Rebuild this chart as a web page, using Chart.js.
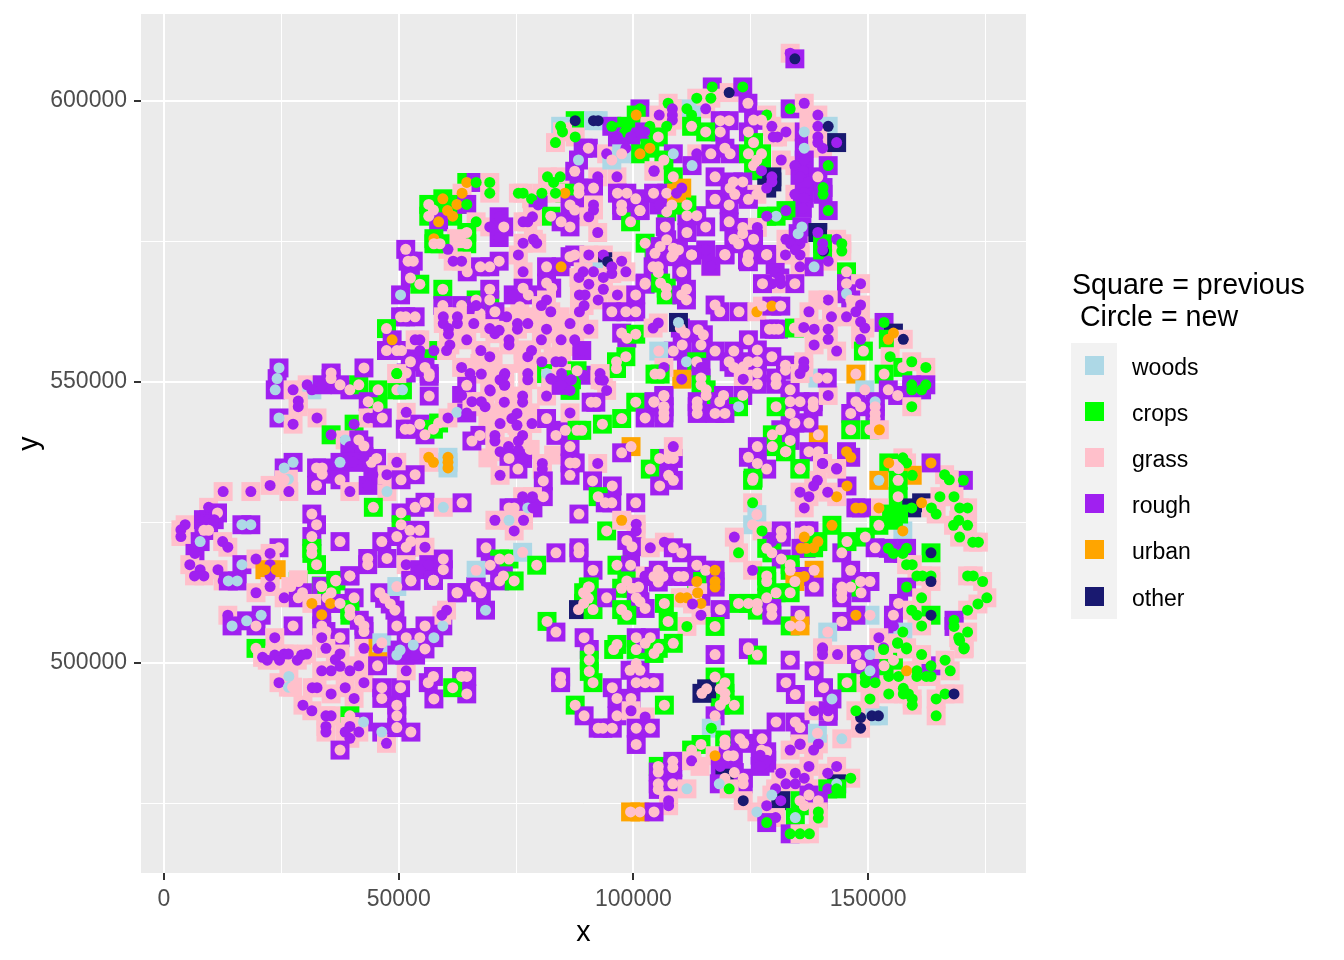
<!DOCTYPE html>
<html><head><meta charset="utf-8">
<style>html,body{margin:0;padding:0;background:#fff}canvas{display:block}</style>
<script src="https://cdn.jsdelivr.net/npm/chart.js@4"></script></head><body>
<canvas id="c" width="1344" height="960"></canvas>
<script>
// Land-use classes
const W='woods',C='crops',G='grass',R='rough',U='urban',O='other';
const classNames=[W,C,G,R,U,O];
const classColors=['#ADD8E6','#00FF00','#FFC0CB','#A020F0','#FFA500','#191970'];
const xTickValues=[0,25000,50000,75000,100000,125000,150000,175000];
const yTickValues=[475000,500000,525000,550000,575000,600000];
const xTickLabels=['0','50000','100000','150000'];
const yTickLabels=['500000','550000','600000'];
// [east km, north km, previous class, new class], by region of the map
const west=[[24.5,552.5,R,W],[24.1,550.6,R,W],[23.7,548.6,R,W],[27.5,548.6,G,R],[30.5,549.5,G,R],[31.5,548.6,W,R],[33.7,549.5,R,R],[35.6,551.6,R,G],[35.6,550.6,R,G],[37.5,549.5,R,G],[39.6,548.6,R,G],[41.5,549.5,C,G],[42.6,552.5,R,G],[45.6,548.6,C,G],[49.6,548.6,C,G],[50.8,548.6,C,W],[49.6,551.5,G,C],[51.6,551.6,R,G],[28.6,546.6,G,R],[28.6,545.6,G,R],[24.5,543.6,R,W],[27.5,542.5,G,R],[32.6,543.6,G,R],[40.5,542.5,C,R],[43.5,546.5,R,G],[45.6,545.6,C,G],[43.5,543.6,G,R],[44.6,543.6,G,R],[46.5,543.6,R,G],[51.6,544.6,G,R],[51.4,541.6,R,G],[52.4,541.6,R,G],[54.5,542.5,R,G],[55.6,540.6,R,G],[57.4,541.6,C,G],[58.5,542.7,C,G],[60.5,543.6,G,R],[62.4,544.6,G,W],[35.6,540.6,C,R],[38.6,539.7,G,W],[39.6,538.5,R,R],[41.5,539.7,R,G],[42.6,538.6,R,G],[45.3,536.4,R,G],[44.2,535.7,R,G],[42.6,536.7,R,R],[40.3,535.7,R,R],[49.6,535.7,G,R],[56.4,536.6,G,U],[57.4,535.7,G,U],[60.5,536.6,W,U],[60.5,535.7,W,U],[60.5,534.7,W,U],[27.5,535.7,R,W],[25.6,534.7,R,W],[26.5,532.7,G,W],[25.6,532.6,G,G],[26.6,530.5,G,R],[22.6,531.6,G,R],[18.5,530.5,G,R],[12.6,530.5,G,R],[32.5,534.7,R,G],[33.7,534.7,R,G],[33.7,533.6,R,G],[32.5,531.6,R,G],[37.5,535.7,R,W],[37.5,532.6,R,G],[39.6,530.5,G,R],[43.5,531.6,R,R],[47.5,530.5,G,W],[44.6,527.7,C,G],[44.5,533.5,R,R],[47.5,533.5,G,R],[50.5,532.6,R,G],[53.5,533.5,R,G],[55.6,528.6,R,G],[53.5,527.7,R,G],[59.5,527.7,G,W],[50.5,526.7,R,G],[50.5,524.6,C,G],[9.5,527.7,G,R],[11.4,526.7,R,G],[4.5,524.6,G,R],[3.6,523.7,G,R],[3.6,522.5,G,R],[8.4,525.5,R,R],[9.5,525.5,R,R],[10.7,525.5,R,R],[8.5,523.6,R,G],[9.5,523.6,R,G],[16.6,524.6,R,W],[18.5,524.6,R,W],[7.7,521.6,R,W],[12.5,521.6,G,R],[13.6,520.6,G,R],[6.6,519.5,R,R],[5.5,517.5,G,R],[7.7,516.6,G,R],[6.5,515.5,G,R],[8.5,515.5,G,R],[11.5,516.6,G,R],[12.6,514.6,G,R],[15.6,514.6,R,W],[13.7,514.6,R,W],[16.6,517.5,R,W],[19.6,518.5,G,R],[24.5,520.5,R,G],[22.6,519.5,G,R],[22.6,517.5,G,R],[22.6,515.5,G,R],[21.5,516.6,U,U],[23.9,516.6,U,U],[31.5,526.5,R,G],[32.5,524.6,R,G],[31.5,522.5,R,G],[31.5,520.4,C,G],[31.5,519.5,C,G],[32.5,517.5,C,G],[37.5,521.6,R,G],[28.6,514.5,C,G],[36.6,514.6,C,G],[39.6,515.5,R,G],[46.4,521.6,R,G],[43.4,518.6,R,G],[43.4,517.5,R,G],[47.5,518.6,R,G],[49.6,522.5,R,G],[52.4,523.6,R,G],[54.5,523.6,R,G],[52.6,521.6,R,G],[51.6,520.6,R,G],[55.6,520.6,G,R],[51.6,517.5,G,R],[54.5,516.6,R,R],[56.4,517.5,R,R],[59.5,518.5,R,G],[59.5,516.6,R,G],[57.4,514.7,R,W],[52.6,514.7,R,G],[33.5,513.7,C,G]];
const southWest=[[22.6,513.6,G,R],[19.6,512.5,G,R],[25.6,511.6,G,R],[13.6,508.5,G,R],[17.6,507.5,R,W],[14.5,506.6,R,W],[20.7,508.5,R,W],[19.6,506.6,R,G],[27.5,506.6,R,G],[23.6,504.5,G,R],[19.6,502.6,C,G],[21,501,G,R],[22,500.5,G,R],[23.6,501.4,G,R],[24.6,500.5,G,R],[25.6,501.6,G,R],[26.5,501.6,G,R],[28.4,500.5,G,R],[29.3,501.4,G,R],[30.4,501.6,G,R],[28.6,514.8,G,G],[27,513.6,G,G],[29.5,512.5,R,G],[28.6,511.6,R,G],[33.6,513.6,R,G],[36.6,514.7,C,G],[35.6,512.5,C,G],[34.7,511.6,C,G],[31.5,510.6,G,U],[35.5,510.6,R,U],[37.5,510.6,R,G],[40.5,511.6,R,G],[39.6,515.5,R,G],[33.6,508.6,R,U],[39.6,509.5,C,G],[39.6,508.5,C,G],[33.6,506.6,R,G],[34.5,505.6,R,G],[33.6,504.5,G,R],[37.5,504.5,R,G],[41.6,507.6,R,G],[42.6,506.6,R,G],[42.6,505.6,R,G],[34.5,502.6,G,R],[42.6,502.6,G,R],[45.6,502.6,U,R],[46.4,503.6,W,G],[37.5,501.6,G,R],[36.5,500.6,G,R],[37.5,499.4,G,R],[33.6,498.6,G,R],[35.6,498.6,G,R],[39.6,498.6,G,R],[41.5,499.5,G,R],[42.6,496.5,G,R],[38.6,495.6,G,R],[31.6,495.6,G,R],[32.6,495.6,G,R],[35.6,494.5,G,R],[40.5,493.7,G,R],[29.6,492.5,G,R],[31.5,491.5,G,R],[24.5,496.5,G,R],[26.6,497.6,G,W],[26.5,495.7,G,W],[27.4,495.7,G,G],[34.5,490.6,G,R],[35.6,490.6,G,R],[34.5,488.7,G,R],[34.5,487.7,G,R],[39.6,490.6,C,G],[42.5,489.5,R,W],[39.6,488.7,G,R],[38.6,487.7,G,R],[39.6,486.6,G,R],[41.5,487.7,G,R],[37.5,484.5,R,G],[46.4,487.7,R,W],[47.4,485.7,G,R],[45.5,499.5,R,G],[46.4,495.6,R,G],[46.4,493.7,R,G],[50.4,495.6,R,G],[51.6,498.6,G,R],[49.6,492.5,R,G],[49.6,490.6,R,G],[49.6,488.5,R,G],[52.6,487.7,R,G],[57.5,493.6,R,G],[57.4,497.6,R,G],[56.3,496.5,R,G],[63.4,497.6,R,G],[64.5,497.6,R,G],[64.5,494.5,R,G],[61.5,495.6,C,G],[46,512.5,R,G],[47,511.5,R,G],[48.2,510.5,R,G],[49.2,509.4,R,G],[49.6,506.6,R,G],[49.6,513.6,W,G],[52.6,514.6,R,G],[57.4,514.7,R,G],[62.4,512.5,R,G],[66.4,513.6,R,G],[67.5,512.5,R,G],[68.5,509.4,R,W],[59.4,506.6,R,W],[57.5,504.5,R,W],[60.2,509.4,G,R],[59.2,508.5,G,R],[55.6,506.6,R,G],[54.5,504.5,R,G],[51.6,504.5,R,G],[55.6,502.5,R,G],[53.6,501.4,R,R],[51.3,501.4,R,R],[53.1,503.2,R,W],[50.3,502.3,R,W],[49.6,501.4,R,W]];
const northWest=[[64.5,585.5,C,U],[66.5,585.5,R,C],[69.4,585.5,G,C],[69.4,583.6,G,C],[63.5,583.6,G,U],[59.4,582.6,C,U],[62.4,581.6,C,U],[60.4,580.5,C,U],[61.5,579.5,C,U],[56.4,581.6,C,G],[57.4,580.6,C,G],[56.4,579.5,C,G],[58.5,578.5,R,U],[64.5,581.6,R,C],[66.5,578.5,G,C],[69.4,577.6,G,R],[72.4,577.6,R,G],[71.4,579.4,R,R],[71.4,575.7,R,R],[64.5,576.6,C,G],[64.5,574.6,C,G],[62.3,575.5,G,G],[60.5,573.6,G,R],[57.5,575.5,C,U],[57.5,574.6,C,G],[58.8,574.6,C,G],[51.5,573.6,R,G],[53.1,571.5,R,G],[52,571.5,R,G],[52.5,568.5,R,G],[54.5,567.4,C,G],[50.4,565.5,R,W],[59.4,566.5,C,G],[59.4,563.6,R,G],[63.4,563.6,R,G],[66.5,564.6,C,G],[69.4,564.6,C,G],[66.5,563.6,R,R],[50.4,561.6,R,G],[51.5,561.6,R,G],[53.5,561.6,R,G],[47.4,559.5,C,G],[48.6,557.5,R,U],[47.4,555.6,R,G],[49.6,555.6,R,G],[50.6,555.6,R,G],[54.5,555.6,R,R],[57.5,555.6,C,R],[53.5,557.5,G,R],[54.5,557.5,G,R],[52.5,553.6,R,G],[55.6,552.6,R,G],[56.5,551.5,R,G],[49.6,551.5,G,C],[81.5,570.5,R,G],[84.6,570.5,R,U],[81.5,567.6,R,G],[82.6,566.7,R,G],[81.7,586.5,G,C],[83,585.5,G,C],[84.4,586.5,G,C],[87.5,587.5,R,G],[92.4,586.5,G,R],[96.5,586.5,G,R],[91.5,584.5,R,G],[88.4,584.5,R,G],[88.4,583.6,R,G],[85.4,583.6,C,U],[83.4,583.6,G,C],[80.5,583.6,G,C],[78.3,582.6,G,C],[75.5,583.6,G,C],[76.5,583.6,G,C],[79.7,581.5,R,R],[86.5,581.5,R,G],[87.5,580.6,R,G],[91.5,581.5,G,R],[91.5,580.6,G,R],[90.5,579.4,G,R],[82.4,579.5,C,G],[84.6,578.5,R,G],[86.5,577.6,R,G],[92.4,576.6,G,R],[76.5,578.5,G,R],[77.5,578.5,G,R],[78.5,579.4,G,R],[96.6,583.6,R,G],[98.6,583.6,R,G],[100.5,582.6,R,G],[97.5,581.5,R,G],[97.5,580.5,R,G],[101.4,580.5,R,G],[99.4,578.5,C,G],[104.4,587.5,G,R],[76.5,574.7,G,R],[75.5,572.6,G,R],[78.7,575.4,G,R],[79.4,574.7,G,R],[71.4,571.5,R,G],[69.4,570.5,R,G],[67.4,570.5,R,G],[64.6,569.6,R,G],[61.6,571.5,G,R],[63.4,571.5,G,R],[76.5,569.6,G,R],[69.4,566.5,R,G],[74.4,565.5,R,R],[76.5,566.7,R,G],[77.6,565.5,R,G],[70.5,562.5,R,G],[86.5,572.3,R,G],[87.5,572.6,R,G],[90.5,572.6,G,R],[93.6,572.6,G,R],[94.5,571.4,O,O],[97.5,571.5,G,R],[95.4,570.5,G,R],[95.4,569.3,G,R],[98.4,569.6,G,R],[91.5,569.6,W,R],[89.3,569.6,G,R],[88.4,568.6,G,R],[93.6,568.6,G,R],[90.5,567.4,G,R],[93.6,566.5,G,R],[96.6,565.5,G,R],[92.5,564.6,G,R],[88.5,565.5,G,R],[89.7,565.5,G,R],[89.5,563.6,G,R],[88.5,562.5,G,R],[95.4,562.5,R,G],[98.4,562.5,R,G],[100.5,562.5,R,G],[100.5,565.5,R,G],[102.5,567.4,R,G],[102.5,574.7,C,G],[104.4,573.5,C,R],[81.5,564.6,G,R],[82.4,562.5,G,R],[80.4,563.6,G,R],[86.5,560.4,G,R],[75.3,560.4,G,R],[77.5,560.4,G,R],[75.3,559.4,G,R],[81.5,559.4,G,R],[80.4,557.5,G,R],[84.6,557.5,G,R],[87.5,557.5,G,R],[90.5,559.4,G,R],[97.5,558.7,R,G],[98.6,557.8,R,G],[100.5,558.5,C,G],[89,555.6,R,R],[78.3,555.6,G,R],[77.5,554.5,G,R],[73.5,557.5,G,R],[73.5,556.6,G,R],[67.5,555.6,G,R],[69.4,554.5,G,R],[64.5,557.5,G,R],[60.9,556.6,G,R],[60.2,555.6,G,R],[66,560.4,G,R],[70.5,558.6,G,R],[71.4,559.2,G,R],[69.4,559.5,G,R],[59.5,561.6,G,R],[59.5,560.4,G,R],[60.6,559.5,G,R],[60.6,558.5,G,R],[62.5,561.6,G,R],[62.5,560.4,G,R],[63.4,552.6,G,R],[80.5,553.6,G,R],[83.5,553.6,G,R],[84.7,553.6,G,R],[88,552,C,G],[96.4,553.6,C,G],[96.4,552.4,C,G],[98.4,554.5,C,G],[72.6,551.5,G,R],[71.6,550.4,G,R],[72.6,549.5,G,R],[77.5,551.5,G,R],[77.5,550.4,G,R],[81.5,551.5,C,W],[82.4,550.6,G,R],[84.7,551.5,G,R],[84.7,549.8,G,R],[86.8,550.4,C,R],[92.9,551.5,G,R],[92.9,550.4,G,R],[69.4,548.6,G,R]];
const centreFill=[[67.3,562.2,G,G],[75.8,563.4,G,G],[73,561.6,G,R],[79.4,561.6,G,G],[84.4,561.6,G,G],[84.4,558.6,G,G],[76.5,555.7,G,G],[82.9,554.5,G,G],[85.8,556.3,G,G],[76.5,553.3,G,G],[70.1,553.9,G,G],[67.3,553.3,G,G],[65.2,551.5,G,R],[70.9,550.9,G,G],[67.6,551.4,G,R],[72.5,551.2,G,R],[72.5,549.4,G,R],[82.5,550.5,R,R],[89.4,551.2,R,R],[93.6,550.3,G,R],[94.3,548.5,G,R],[64.5,549.4,R,G],[63.4,547.6,R,R],[68.4,545.6,G,R],[74.8,543.5,G,G],[75.5,537.9,G,R],[73.4,538.5,G,R],[72,544.5,G,G],[78,544.5,G,G],[69,543,G,G],[78,538,G,G],[69,536.5,G,G],[83,537,G,G]];
const centre=[[56.5,551,R,G],[56.5,547.5,R,G],[64.5,544.5,R,R],[65.6,546.5,G,R],[67.6,546.5,G,R],[69.5,548.4,G,R],[72.5,546.4,G,R],[75.2,544.4,G,R],[74.1,543.5,G,R],[75.2,542.3,G,R],[71.6,542.6,G,R],[78.4,542.6,G,R],[81.5,543.5,R,G],[85.5,541.4,R,G],[83.5,540.5,R,G],[86.5,544.5,G,R],[81.5,547.5,G,R],[76.4,547.5,G,R],[76.4,546.4,G,R],[67.3,540.5,R,G],[65.6,539.5,R,G],[70.5,540.5,G,R],[70.5,539.5,G,R],[76.4,540.5,G,R],[75.5,539.5,G,R],[86.5,538.5,R,G],[71.6,537.6,G,R],[73.5,536.4,R,G],[76.4,536.4,R,R],[75.4,534.5,R,G],[71.6,533.4,G,R],[80.6,535.5,G,R],[80.6,534.5,G,R],[86.5,535.6,R,G],[87.6,535.6,R,G],[86.5,533.4,R,G],[92.4,535.5,G,R],[91.3,532.4,R,G],[95.5,531.5,R,G],[80.8,532.4,R,G],[80.8,529.6,R,G],[76.4,529.6,G,R],[78.5,529.6,G,R],[77.5,527.6,G,W],[73.5,527.6,R,G],[74.6,527.6,R,G],[78.6,527.6,R,R],[70.5,525.4,G,R],[73.5,525.4,G,W],[76.6,525.4,G,R],[74.6,523.5,G,R],[63.5,528.5,R,G],[88.4,526.5,R,G],[92.5,529.6,C,G],[94,528.5,R,G],[95.4,528.5,R,G],[100.5,528.5,R,G],[94.3,523.5,C,G],[97.5,525.4,G,U],[100.6,524.7,G,R],[100.6,523.5,G,R],[98.6,521.8,R,G],[99.7,520.7,R,G],[103.6,520.5,G,R],[106.6,521.5,G,R],[108.5,520.5,R,G],[68.6,520.5,R,G],[71.5,518.5,C,G],[73.5,518.5,C,G],[76.4,519.7,W,G],[79.4,517.4,C,G],[83.5,519.6,R,G],[88.4,520.5,R,G],[88.4,519.6,R,G],[91.4,516.5,R,G],[96.5,517.4,C,G],[99.4,517.4,R,G],[102.5,515.5,G,R],[69.5,517.4,R,G],[66.5,516.5,W,G],[72.3,515.5,R,G],[71.5,514.6,R,G],[74.6,514.6,C,G],[62.5,512.5,R,G],[66.5,513.5,R,G],[67.6,512.7,R,G],[90.4,513.5,C,G],[89.7,512.4,C,G],[98.6,514.6,C,G],[97.5,513.3,C,G],[99.7,513.3,C,G],[105.6,536.4,C,G],[107.5,536.4,R,G],[108.5,536.4,R,G],[103.6,534.5,C,G],[105.6,531.5,R,G],[107.5,533.4,R,G],[108.5,532.5,R,G],[99.5,538.5,U,G],[97.5,537.4,R,G],[100.5,546.4,C,G],[104.4,546.4,R,G],[106.5,547.5,R,G],[106.5,545.6,R,G],[106.5,544.5,R,G],[106.5,543.6,R,G],[102.5,543.6,R,G],[97.5,543.5,C,G],[93.4,542.5,C,G],[89,541.4,C,G],[88,541.4,C,G],[91,546.4,R,G],[92,546.4,R,G],[86.5,548.5,C,R],[84.6,549.4,R,R]];
const eastCentre=[[119.5,572.6,R,G],[124.5,572.6,R,G],[124.5,571.4,R,G],[128.4,572.6,R,G],[132.4,572.6,G,R],[135.5,572.6,G,R],[135.5,570.5,G,R],[140.5,573.3,C,O],[141.5,571.5,G,R],[144.4,573.3,G,C],[138.5,570.5,R,W],[145.4,569.6,C,G],[145.4,567.5,R,G],[148.4,567.5,G,R],[145.4,565.7,R,W],[146.3,564.6,R,G],[148.4,563.7,G,R],[147.4,562.5,G,R],[148.4,560.7,G,R],[149.3,559.6,G,R],[148.4,557.6,G,R],[153.4,560.6,R,C],[155.4,558.7,O,U],[154.3,557.6,C,U],[157.5,557.6,G,O],[154.7,554.5,G,C],[153.4,551.4,C,G],[157.4,552.6,C,G],[159.3,553.6,G,C],[162.3,552.6,G,C],[147.4,551.4,U,G],[149.3,548.6,W,G],[154.3,548.6,R,G],[156.3,547.6,R,G],[159.3,549.5,R,C],[159.3,548.6,R,C],[161.4,548.6,R,C],[162.3,549.5,R,C],[159.3,545.6,G,C],[151.5,546.5,R,W],[151.5,545.6,R,G],[151.5,544.4,R,G],[151.5,543.5,R,G],[147.4,546.5,R,G],[148.4,545.6,R,G],[146.3,544.4,R,G],[146.3,541.5,C,G],[150.4,541.5,C,G],[152.4,541.5,G,U],[145.4,537.6,R,U],[146.3,536.6,R,U],[139.4,540.6,U,G],[133.4,539.6,R,G],[134.4,542.7,R,G],[137.4,542.7,R,G],[131.4,541.5,R,G],[129.6,540.6,C,G],[129.6,538.5,C,G],[132.4,537.6,C,G],[137.4,537.6,R,G],[139.4,537.6,R,G],[140.3,535.5,G,R],[143.3,534.6,G,R],[126.4,538.5,R,G],[124.5,536.6,R,G],[126.4,535.5,R,G],[128.4,534.5,R,G],[125.5,532.9,C,G],[135.5,534.6,C,G],[133.4,548.6,R,G],[133.4,546.5,R,G],[135.5,546.5,R,G],[133.4,544.4,R,G],[138.3,546.5,R,G],[138.3,545.6,R,G],[141.5,547.6,G,R],[130.4,545.6,C,G],[139.3,550.7,W,G],[141.3,550.7,R,G],[132.4,553,R,G],[132.4,552.1,R,G],[136.3,553.6,G,R],[136.3,552.6,G,R],[135.5,551.5,G,R],[129.5,554.5,R,G],[126.4,555.7,R,G],[126.4,553.6,R,G],[126.4,551.6,R,G],[126.4,549.6,R,G],[124.5,553.6,R,G],[123.4,552.7,R,G],[120.4,553.6,R,G],[121.4,552.6,R,G],[123.4,550.5,G,R],[130.4,550.7,R,G],[130.4,549.6,R,G],[124.5,557.5,R,G],[121.4,555.5,R,G],[117.4,555.5,R,G],[114.4,556.6,R,G],[113.8,559.3,R,G],[114.9,558.4,R,G],[110.4,556.6,R,G],[111,558.7,R,G],[110,559.6,R,G],[109.6,560.6,O,W],[105.3,560.5,G,R],[104.2,559.6,G,R],[108.5,555.5,R,G],[105.4,555.5,W,G],[111.3,553.6,R,W],[113.5,553.6,C,G],[114.4,552.6,R,R],[114.4,550.7,R,G],[114.4,549.5,C,G],[110.3,550.5,U,R],[106.5,552.6,G,R],[104.6,551.4,C,G],[105.7,551.4,C,G],[115.5,548.6,C,G],[115.5,547.6,C,G],[118.4,546.5,R,G],[119.2,547.6,R,G],[123.3,547.6,R,G],[122.4,545.6,C,W],[113.6,546.5,R,G],[113.6,545.6,R,G],[113.6,544.4,R,G],[117.4,544.4,R,G],[119.5,544.4,R,G],[106.5,547.6,R,G],[104.4,546.5,R,G],[106.5,545.6,R,G],[118.4,562.5,R,G],[117.4,563.7,R,G],[122.5,562.5,R,G],[126.3,562.5,G,U],[127.5,563.5,G,G],[129.5,563.5,R,U],[131.4,563.5,R,G],[130,559.4,R,G],[129,559.4,R,G],[130.9,559.4,R,G],[134.3,559.6,C,G],[136.3,559.7,G,R],[138.5,559.4,G,R],[141.5,559.4,G,R],[141.5,557.6,G,R],[137.4,562.5,G,R],[142.2,561.6,G,R],[145.4,561.6,G,R],[141.5,564.6,G,R],[139.3,564.6,G,G],[138.5,556.6,G,R],[143.3,555.5,G,R],[149,555.5,C,G],[130.2,569.5,R,R],[131.2,568.5,R,R],[129.5,567.5,G,R],[131.4,567.5,G,R],[134.4,567.5,R,G],[127.5,567.5,R,G],[116.5,570.5,G,R],[110.3,569.6,R,G],[112.4,572.6,R,G],[108.5,572.6,R,G],[105.3,570.5,R,G],[104.2,570.5,R,G],[105.3,569.5,R,G],[102.5,567.6,R,G],[105.8,567.6,C,G],[107,566.7,C,G],[107,565.5,C,G],[111.3,566.5,R,G],[110.3,565.5,R,G],[111.3,564.6,R,G],[108.5,538.5,G,R]];
const north=[[133.4,608.5,G,R],[134.4,607.5,R,O],[116.8,602.5,R,C],[120.4,601.5,G,O],[123.3,602.5,R,C],[113.5,600.5,G,C],[116.5,600.5,G,C],[124.4,599.6,R,G],[133.4,598.6,R,C],[136.4,599.6,G,R],[115.4,598.6,G,R],[107.4,599.6,G,C],[111.4,598.6,W,C],[112.4,597.5,W,C],[101.4,598.6,R,C],[108.3,598.6,G,R],[108.3,597.5,G,R],[108.3,596.6,G,R],[105.5,597.5,G,R],[100.6,597.5,C,U],[128.4,597.5,G,C],[87.6,596.5,C,O],[91.5,596.5,W,O],[92.5,596.5,W,O],[84.5,595.5,W,C],[84.9,594.5,G,C],[87.6,593.6,G,C],[83.4,592.6,G,C],[95.4,595.5,R,C],[98.6,595.5,C,C],[98.2,594.5,C,C],[103.5,595.5,G,C],[103.5,594.5,G,C],[107.1,595.5,G,C],[102.4,594.5,R,R],[112.4,595.5,C,G],[118.5,596.5,R,G],[120.4,596.5,R,G],[118.5,594.5,R,G],[115.4,594.5,C,G],[125.6,596.6,R,G],[124.5,594.5,R,G],[127.3,596.6,R,G],[129.5,595.5,G,R],[132.5,594.5,G,R],[129.8,593.6,G,R],[130.7,593.6,G,R],[136.4,594.5,R,W],[136.4,591.6,R,W],[137.4,596.6,G,G],[139.3,597.5,G,R],[139.3,595.5,G,R],[141.5,595.5,W,O],[139.3,593.6,G,R],[139.3,592.6,G,R],[140.3,591.6,G,R],[143.3,592.6,O,R],[89.3,591.6,R,R],[90.4,591.6,R,G],[88.3,589.5,R,W],[94.3,590.6,G,R],[98.4,591.6,R,R],[96.6,593.6,R,R],[99.4,593.6,R,R],[105.3,593.6,C,G],[101.4,590.6,C,U],[103.5,591.6,C,U],[95.4,589.5,W,G],[97.5,590.6,W,G],[108.5,590.6,R,W],[106.5,589.5,C,G],[113.5,590.6,G,R],[112.5,588.5,R,W],[104.4,587.6,G,R],[108.5,586.5,C,G],[116.5,590.6,R,G],[119.5,591.6,R,G],[120.6,590.6,R,G],[117.4,586.5,R,G],[125.6,592.6,C,G],[124.5,590.6,C,G],[127.3,590.6,C,G],[126.3,589.5,C,G],[125.6,588.5,C,G],[127.3,587.6,C,R],[131.5,589.5,G,R],[134.4,588.5,G,R],[129.5,586.5,O,R],[129.5,585.6,O,R],[128.4,584.5,O,R],[141.5,588.5,R,C],[136.4,589.5,R,R],[136.2,587.6,R,R],[135.5,586.5,R,R],[137.3,585.6,R,R],[139.3,586.5,R,G],[140.4,584.6,R,C],[140.4,583.4,R,C],[134.4,583.4,G,R],[136.4,583.7,R,R],[136.4,582.7,R,R],[136,580.9,R,R],[141.5,580.5,R,C],[132.5,580.5,C,R],[130.4,579.5,C,W],[128.4,579.5,C,R],[123.3,585.6,R,G],[121.3,585.6,R,G],[120.6,584.5,R,G],[121.6,583.4,R,G],[126.3,583.4,G,G],[124.5,582.5,R,G],[120.4,581.5,R,G],[117.4,582.5,R,G],[120.4,578.5,R,G],[123.3,577.5,R,G],[123.3,576.4,R,G],[126.4,577.5,G,R],[121.4,575.4,R,G],[122.4,574.6,R,G],[125.6,575.4,R,G],[128.4,572.7,R,G],[124.3,571.7,R,G],[119.5,572.7,R,G],[115.4,577.6,R,G],[111.4,579.6,R,G],[113.5,579.6,R,G],[111.4,576.6,R,G],[115.4,573.5,R,R],[112.4,572.6,R,G],[116.5,570.6,R,R],[111.4,581.5,C,G],[108.2,581.5,C,G],[107.1,580.3,C,G],[105.5,581.5,R,R],[104.3,583.6,R,G],[107.1,583.6,R,G],[110.3,584.5,U,R],[109.2,583.6,U,R],[106.8,577.6,R,G],[107.1,575.3,R,G],[105.7,574.1,R,G],[104.6,572.9,R,G],[108.5,573.8,R,G],[109.6,573.5,R,G],[108.2,572.3,R,G],[101.4,580.5,R,G],[132.5,575.4,G,R],[133.5,574.6,G,R],[135.5,574.6,G,R],[134.5,573.5,G,R],[135.9,577.6,R,W],[135.1,576.4,R,W],[139.3,576.6,O,R],[143.3,575.4,G,R],[140.3,574.6,C,R],[140.3,573.5,C,R],[144.4,574.6,G,C]];
const east=[[170.3,532.5,R,C],[166.3,533.5,G,C],[167.3,532.6,G,C],[163.4,535.6,R,U],[157.4,536.5,G,C],[158.2,535.6,G,C],[154.4,535.6,C,U],[156.5,534.6,G,G],[159.4,533.4,U,C],[156.4,532.5,C,G],[152.3,532.5,U,W],[156.4,529.6,C,G],[161.4,528.5,O,U],[159.3,527.6,O,C],[163.5,527.6,G,C],[164.5,526.5,G,C],[165.3,529.6,G,C],[168.3,529.6,G,C],[169.5,527.6,G,C],[171.2,527.6,G,C],[169.3,525.4,G,C],[168.2,524.5,G,C],[171.2,524.5,G,C],[169.5,522.4,G,C],[172.3,521.5,G,C],[173.5,521.5,G,C],[152.3,527.6,G,U],[147.4,527.6,R,U],[148.6,527.6,R,U],[152.3,524.5,C,G],[157.4,523.5,W,U],[155,526.5,C,C],[156.5,526.5,C,C],[155.4,525.4,C,C],[149.4,522.4,C,G],[151.5,520.5,R,G],[154.3,520.4,R,C],[155.4,519.5,R,C],[157.4,519.5,R,C],[158.2,520.4,R,C],[163.4,519.6,C,O],[158.2,517.5,G,C],[159.4,517.5,G,C],[160.4,515.5,G,C],[161.6,515.5,G,C],[163.4,515.5,G,C],[163.4,514.5,G,O],[158.2,513.5,R,C],[161.4,511.6,G,C],[156.5,510.6,R,G],[159.3,509.4,G,C],[160.4,508.5,G,C],[163.4,508.5,C,O],[161.4,506.6,G,C],[171.2,515.5,G,C],[172.4,515.5,G,C],[174.4,514.5,G,C],[175.3,511.6,G,C],[173.4,510.5,G,C],[171.2,509.4,G,C],[168.3,507.6,R,C],[168.3,506.5,R,C],[171.2,505.5,G,C],[169.3,504.5,G,C],[170.5,502.7,G,C],[150.4,508.5,W,G],[147.4,508.5,R,U],[144.4,507.4,R,G],[141.4,505.5,W,G],[155.4,508.5,R,G],[155.4,506.6,R,R],[152.3,504.5,G,R],[157.4,505.5,W,C],[156.3,503.6,W,C],[153.3,502.7,G,R],[158.2,502.7,G,C],[140.3,502.7,G,R],[124.5,502.7,R,G],[148.4,514.5,R,G],[150.4,514.5,R,G],[148.5,512.5,R,G],[146.3,513.5,C,G],[144.4,513.5,R,G],[144.4,512.5,R,G],[144.4,511.6,R,G],[146.3,516.5,R,G],[144.4,519.6,R,G],[145.5,521.6,C,G],[142.3,524.5,C,U],[145.5,531.5,R,U],[143.3,529.6,G,U],[141.4,530.4,G,R],[143.3,534.5,G,R],[140.3,535.5,G,R],[139.2,532.5,G,R],[138.4,531.5,G,R],[137.4,529.6,G,R],[135.5,530.4,G,R],[136.4,527.6,G,R],[135.5,534.5,C,G],[132.5,537.6,C,G],[125.4,532.5,C,G],[125.4,528.5,G,C],[126.3,526.4,W,G],[125.4,524.6,W,G],[127.4,523.5,G,C],[131.5,523.5,R,G],[131.5,522.4,R,G],[136.4,523.5,R,G],[137.4,523.5,R,G],[136.4,522.4,G,U],[121.5,522.4,G,R],[122.4,519.6,G,C],[129.5,521.6,R,R],[128.4,520.4,C,G],[129.5,519.6,C,G],[131.5,518.5,R,G],[135.7,520.4,R,U],[136.8,520.4,R,U],[138.4,520.5,C,U],[139.3,521.6,C,U],[133.4,517.5,C,G],[133.4,516.5,C,G],[125.4,516.5,G,R],[128.4,515.5,C,G],[128.4,514.5,C,G],[138.5,516.5,U,G],[136.4,515.4,R,U],[134.4,514.5,U,G],[138.5,513.5,R,G],[130.4,512.5,C,G],[133.4,512.5,C,G],[128.4,511.6,C,G],[122.4,510.6,C,G],[124.5,510.6,C,G],[126.4,510.6,C,G],[126.4,509.4,C,G],[129.5,509.7,R,G],[129.5,508.5,R,G],[135.5,508.5,R,G],[133.4,506.6,C,G],[135.5,506.6,U,G]];
const southCentre=[[110.3,519.6,R,G],[113.5,517.4,R,G],[115.4,516.5,R,G],[117.4,516.5,R,U],[117.4,514.5,R,U],[117.4,513.5,R,U],[113.5,514.5,C,U],[113.7,512.5,G,U],[110,511.6,G,U],[111.4,511.6,G,U],[114.4,510.6,R,U],[112.6,510.5,G,R],[114.4,508.5,G,R],[111.4,506.5,G,C],[102.5,515.4,G,R],[105.3,516.5,R,G],[105.3,515.4,R,G],[105.3,514.4,R,G],[104.4,515.4,R,G],[106.3,515.4,R,G],[109.6,515.4,R,G],[110.7,515.4,R,G],[101.1,513.5,R,G],[100.6,511.6,R,G],[101.4,510.9,R,G],[102.5,509.7,R,G],[90.6,513.5,C,G],[89.4,512.5,C,G],[90.4,511.5,C,G],[89.4,510.6,C,G],[88.3,509.5,O,G],[91.4,509.5,C,G],[94.3,511.6,R,G],[97.5,509.5,C,G],[98.6,508.5,C,G],[106.6,510.6,C,G],[107.4,507.4,C,G],[118.5,509.5,R,G],[117.4,506.5,C,G],[81.6,507.4,C,G],[83.5,505.5,R,G],[89.5,504.5,R,G],[90.6,502.4,R,G],[90.6,500.5,C,G],[90.6,498.5,C,G],[91.4,496.5,C,G],[84.5,497.5,R,G],[84.5,496.5,R,G],[95.5,495.6,R,G],[87.6,492.5,C,G],[89.5,490.6,R,G],[92.5,488.4,R,G],[93.5,488.4,R,G],[95.5,488.4,R,G],[96.5,490.6,R,G],[96.5,493.7,R,G],[99.5,493.7,R,G],[99.5,491.5,G,R],[102.5,490.4,G,R],[100.6,488.4,R,G],[103.6,488.4,R,G],[100.6,485.5,R,G],[106.6,492.5,C,G],[100.6,496.5,R,G],[102.5,496.5,R,G],[104.4,496.5,R,G],[100.6,499.9,W,G],[99.3,498.7,R,G],[101.4,498.7,R,G],[100.6,504.5,R,G],[100.6,502.4,C,G],[96.5,503.3,C,G],[95.8,502.4,C,G],[102.5,503.5,R,G],[103.6,504.5,R,G],[105.3,502.6,C,G],[104.4,501.7,C,G],[108.5,503.5,C,G],[117.4,501.5,R,G],[124.5,502.4,R,G],[126.4,501.4,C,G],[133.4,500.5,R,G],[132.5,496.5,R,G],[134.5,494.4,R,G],[130.4,489.5,R,G],[134.5,489.5,R,G],[135.5,488.5,R,G],[135.5,485.5,G,R],[117.4,497.5,C,G],[119.5,496.5,C,G],[118.5,495.4,C,G],[119.5,494.6,C,G],[118.5,492.5,C,G],[119.5,493.5,C,G],[121.5,492.5,C,G],[117.4,490.6,R,G],[115.6,495.4,O,G],[114.6,494.6,O,G],[116.6,488.4,W,C],[114.4,485.5,C,G],[119.5,486.3,C,G],[119.5,485.5,C,G],[122.7,486.5,R,G],[123.5,485.7,R,G],[127.4,486.5,R,G]];
const south=[[112.4,484.5,C,G],[117.4,483.5,G,U],[127.3,484.5,R,G],[128.4,484.2,R,G],[121.3,483.5,R,G],[120.2,483.5,R,G],[133.4,484.5,G,R],[135.5,485.6,G,R],[139.4,485.6,G,R],[138.4,484.5,G,R],[105.3,481.6,C,G],[105.3,480.6,R,G],[108.4,482.5,R,G],[108.4,481.4,R,G],[112.4,482.6,G,R],[114.2,481.6,G,G],[105.3,478.5,R,G],[105.3,477.5,R,G],[108.4,478.5,R,G],[111.4,477.6,G,W],[107.5,475.5,G,R],[107.5,474.6,G,R],[99.4,473.5,U,G],[101.4,473.5,U,G],[104.4,473.5,R,G],[118.5,481.6,R,R],[121.5,480.5,R,G],[119.5,479.5,O,G],[123.4,479.5,R,G],[123.4,478.5,R,G],[118.3,478.5,R,W],[120.4,477.6,G,C],[123.4,475.5,G,O],[126.3,473.5,G,W],[128.4,474.6,G,R],[130.3,477.6,G,R],[131.4,480.4,G,R],[134.5,480.4,G,R],[137.4,481.6,G,R],[136.4,479.5,G,R],[132.5,478.5,G,R],[134.5,478.5,G,R],[137.4,477.6,G,R],[141.4,480.4,G,R],[143.3,481.6,G,R],[146.3,479.5,G,C],[143.3,478.5,O,W],[141.4,477.6,C,R],[143.3,477.6,C,C],[129.5,476.5,G,W],[131.4,475.5,O,R],[135.5,475.5,C,G],[136.4,474.6,C,G],[137.4,476.5,R,G],[139.4,475.5,R,G],[139.4,473.5,G,C],[139.4,472.4,G,C],[134.5,472.5,C,W],[130.3,472.5,G,R],[128.4,471.6,R,C],[133.4,469.6,R,C],[135.5,469.6,G,C],[137.5,469.6,G,C],[127,483.6,R,R],[128,482.2,R,R],[128.4,482.7,R,R],[127,481.6,R,R],[139.2,487.5,W,G],[144.4,486.5,G,W],[148.4,490.3,G,O],[150.8,490.6,W,O],[152.2,490.6,W,O],[148.4,488.4,G,O],[147.4,491.5,G,C],[164.5,490.6,G,C],[164.5,493.6,G,C],[166.4,494.5,G,C],[168.3,494.5,G,O],[159.4,492.5,G,C],[159.4,493.6,G,C],[158.6,494.5,G,C],[157.5,495.5,G,C],[157.5,494.5,G,C],[154.4,494.5,G,C],[150.4,493.6,G,C],[149.4,497.6,G,C],[149.4,496.5,G,C],[151.5,496.5,G,C],[154.4,497.6,G,C],[156.5,497.6,G,C],[160.4,498.6,G,C],[160.4,497.6,G,C],[162.4,497.6,G,C],[163.4,497.6,G,C],[163.4,499.5,R,C],[167.5,498.6,G,C],[166.4,500.5,G,C],[158.2,498.6,G,U],[155.4,500.5,C,G],[153.4,499.5,C,G],[150.4,501.5,R,W],[150.4,498.6,R,W],[148.4,499.7,R,G],[147.4,501.5,R,G],[145.5,496.5,C,G],[143.5,501.5,G,R],[140.3,502.4,G,R],[140.3,501.5,G,R],[138.5,498.6,R,G],[140.5,495.6,R,G],[142.3,493.6,R,W],[141.5,490.5,R,G],[138.5,491.5,G,R],[141.5,491.5,R,R],[153.3,502.4,G,C],[156.3,503.5,G,C],[158.2,502.5,G,C],[161.4,501.5,G,C],[169.5,504,G,C],[170.4,502.5,G,C]];
const regions=[centreFill,west,southWest,northWest,centre,eastCentre,north,east,southCentre,south];

const cells=regions.flat().map(([e,n,prev,cur])=>({x:e*1000,y:n*1000,prev,cur}));
const colorOf=k=>classColors[classNames.indexOf(k)];
const FONT='"Liberation Sans",Arial,sans-serif';

const ggBackground={id:'ggBackground',beforeDraw(ch){
  const a=ch.chartArea,c=ch.ctx;c.save();c.fillStyle='#EBEBEB';
  c.fillRect(a.left,a.top,a.right-a.left,a.bottom-a.top);c.restore();}};
const ggLegend={id:'ggLegend',afterDraw(ch){
  const c=ch.ctx;c.save();
  c.textBaseline='middle';c.textAlign='left';c.fillStyle='#000';
  c.font='28.6px '+FONT;
  c.fillText('Square = previous',1072,286);
  c.fillText(' Circle = new',1072,318);
  c.fillStyle='#F2F2F2';c.fillRect(1071,343,46,276);
  c.font='23px '+FONT;
  classNames.forEach((n,i)=>{
    const top=356+i*46.1;
    c.fillStyle=classColors[i];c.fillRect(1085,Math.round(top),19,19);
    c.fillStyle='#000';c.fillText(n,1132,Math.round(top)+13);
  });
  c.restore();}};

new Chart(document.getElementById('c'),{
  type:'scatter',
  data:{datasets:[
    {label:'previous',data:cells,pointStyle:'rect',pointRadius:13.4,pointHoverRadius:13.4,borderWidth:0,pointBorderWidth:0,
      pointBackgroundColor:ctx=>colorOf(ctx.raw.prev),order:2},
    {label:'new',data:cells,pointStyle:'circle',pointRadius:5.5,pointHoverRadius:5.5,borderWidth:0,pointBorderWidth:0,
      pointBackgroundColor:ctx=>colorOf(ctx.raw.cur),order:1}
  ]},
  options:{
    responsive:false,animation:false,devicePixelRatio:1,
    layout:{padding:{left:0,right:318,top:14,bottom:0}},
    plugins:{legend:{display:false},tooltip:{enabled:false}},
    scales:{
      x:{type:'linear',min:-4900,max:183640,
        afterBuildTicks:s=>{s.ticks=xTickValues.map(v=>({value:v}));},
        afterFit:s=>{s.height=87;s.paddingLeft=0;s.paddingRight=0;},
        grid:{color:'#FFFFFF',lineWidth:c=>xTickLabels.includes(String(c.tick.value))?2:1,drawTicks:true,tickLength:7,
          tickColor:c=>xTickLabels.includes(String(c.tick.value))?'#333333':'rgba(0,0,0,0)',tickWidth:2},
        border:{display:false},
        ticks:{autoSkip:false,maxRotation:0,padding:6,color:'#4D4D4D',font:{family:FONT,size:23},
          callback:v=>xTickLabels.includes(String(v))?String(v):''},
        title:{display:true,text:'x',color:'#000',font:{family:FONT,size:28.6},padding:{top:0,bottom:10}}},
      y:{type:'linear',min:462630,max:615480,
        afterBuildTicks:s=>{s.ticks=yTickValues.map(v=>({value:v}));},
        afterFit:s=>{s.width=141;s.paddingTop=0;s.paddingBottom=0;},
        grid:{color:'#FFFFFF',lineWidth:c=>yTickLabels.includes(String(c.tick.value))?2:1,drawTicks:true,tickLength:7,
          tickColor:c=>yTickLabels.includes(String(c.tick.value))?'#333333':'rgba(0,0,0,0)',tickWidth:2},
        border:{display:false},
        ticks:{autoSkip:false,padding:7,color:'#4D4D4D',font:{family:FONT,size:23},
          callback:v=>yTickLabels.includes(String(v))?String(v):''},
        title:{display:true,text:'y',color:'#000',font:{family:FONT,size:28.6},padding:{top:13,bottom:0}}}
    }
  },
  plugins:[ggBackground,ggLegend]
});
</script></body></html>
